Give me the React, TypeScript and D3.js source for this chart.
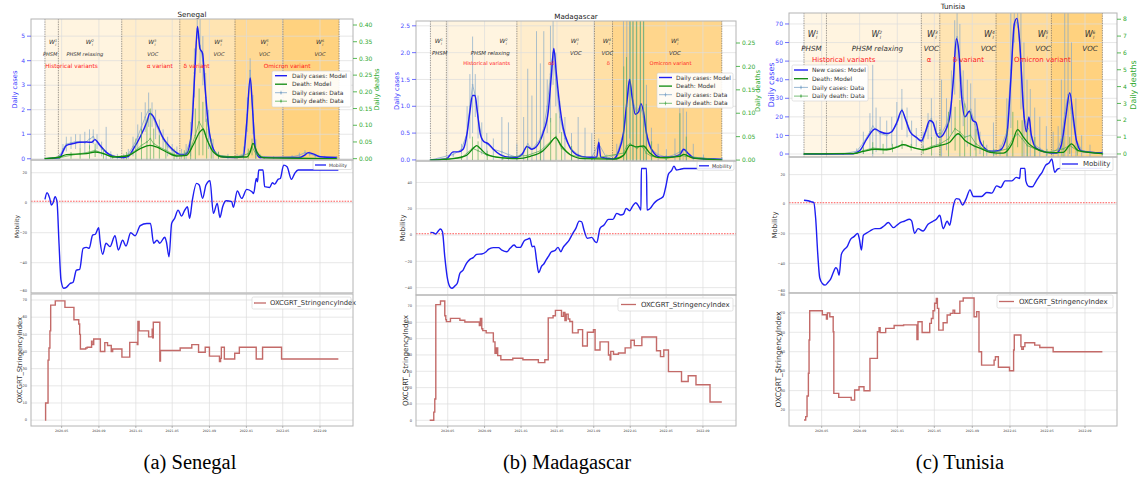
import React from "react";
import * as d3 from "d3";

type P = [number, number];
type E = [number, number, number];

// ---------------- shared ----------------
const dateTicks = ["2020-05", "2020-09", "2021-01", "2021-05", "2021-09", "2022-01", "2022-05", "2022-09"];
const mobilityReference = 1;

// ---------------- Senegal ----------------
const senCasesModel: P[] = [[2.19,0],[3.78,0.05],[4.14,0.3],[4.51,0.55],[5.23,0.62],[5.95,0.67],[6.68,0.68],[7.22,0.67],[7.58,0.78],[8.12,0.55],[8.85,0.25],[9.57,0.1],[10.66,0.05],[11.2,0.1],[11.74,0.4],[12.47,0.9],[13.19,1.5],[13.55,1.85],[13.91,1.75],[14.46,1.3],[15.0,0.85],[15.72,0.5],[16.45,0.25],[16.99,0.15],[17.53,0.2],[18.07,1.0],[18.44,3.5],[18.73,5.4],[18.98,4.5],[19.27,4.3],[19.52,3.0],[19.88,1.4],[20.43,0.4],[21.15,0.1],[22.6,0.05],[23.68,0.1],[24.04,1.5],[24.41,3.3],[24.66,2.0],[24.95,0.4],[25.49,0.05],[29.83,0.05],[30.38,0.15],[30.74,0.25],[31.28,0.2],[32.0,0.08],[33.81,0.05]];
const senDeathModel: P[] = [[2.19,0],[3.78,0.005],[4.51,0.012],[6.68,0.015],[7.58,0.02],[8.49,0.015],[9.57,0.005],[11.02,0.008],[12.47,0.03],[13.55,0.04],[14.28,0.035],[15.36,0.02],[16.45,0.008],[17.53,0.01],[18.26,0.04],[18.98,0.08],[19.34,0.088],[19.7,0.06],[20.43,0.02],[21.51,0.005],[24.04,0.005],[24.41,0.02],[24.7,0.046],[25.13,0.02],[25.85,0.003],[33.81,0]];
const senCasesData: E[] = [[2.19,0,0],[3.0,0.02,0.05],[3.78,0.1,0.2],[4.14,0.4,0.6],[4.5,0.6,0.9],[5.0,0.65,0.9],[5.5,0.7,1.0],[6.0,0.7,1.0],[6.5,0.65,1.1],[7.0,0.8,1.2],[7.4,0.9,1.2],[7.8,0.7,1.0],[8.3,0.4,0.7],[8.8,0.3,1.3],[9.3,0.15,0.3],[10.0,0.08,0.2],[10.7,0.08,0.2],[11.2,0.2,0.4],[11.7,0.5,0.9],[12.2,0.9,1.4],[12.6,1.3,1.9],[13.0,1.7,2.3],[13.4,2.0,2.7],[13.8,1.8,2.3],[14.2,1.4,2.0],[14.6,1.1,1.6],[15.0,0.8,1.2],[15.5,0.5,0.9],[16.0,0.35,0.6],[16.5,0.25,0.5],[17.0,0.2,0.4],[17.5,0.25,0.6],[18.0,0.8,1.5],[18.4,3.5,4.5],[18.7,5.3,5.7],[19.0,4.6,5.7],[19.3,4.0,5.0],[19.6,2.5,3.5],[19.9,1.2,2.0],[20.4,0.4,0.8],[21.0,0.15,0.3],[22.0,0.08,0.2],[23.0,0.08,0.2],[23.7,0.2,0.5],[24.1,1.8,2.5],[24.4,3.6,4.1],[24.7,1.8,2.6],[25.0,0.4,0.8],[25.5,0.1,0.2],[27.0,0.05,0.1],[29.0,0.08,0.15],[29.8,0.15,0.25],[30.4,0.25,0.35],[30.9,0.2,0.3],[31.5,0.12,0.2],[32.5,0.08,0.12],[33.81,0.06,0.1]];
const senDeathData: E[] = [[2.19,0,0],[3.78,0.003,0.006],[5.0,0.01,0.02],[6.0,0.015,0.03],[7.0,0.02,0.04],[7.6,0.025,0.045],[8.5,0.015,0.03],[9.5,0.006,0.012],[11.0,0.008,0.02],[12.0,0.025,0.06],[12.6,0.04,0.09],[13.2,0.05,0.12],[13.6,0.06,0.15],[14.0,0.045,0.09],[14.6,0.035,0.07],[15.3,0.025,0.05],[16.2,0.012,0.03],[17.3,0.01,0.025],[18.0,0.03,0.07],[18.5,0.07,0.15],[18.9,0.11,0.21],[19.3,0.09,0.17],[19.7,0.06,0.12],[20.2,0.03,0.06],[21.0,0.01,0.02],[23.0,0.004,0.008],[24.2,0.015,0.03],[24.6,0.035,0.06],[25.0,0.015,0.03],[26.0,0.003,0.005],[33.81,0,0]];
const senMobility: P[] = [[2.19,2.2],[2.41,6.7],[2.7,2.9],[2.88,-1.6],[3.06,0],[3.28,4],[3.49,0.7],[3.71,-27],[3.93,-51.6],[4.22,-57],[4.51,-56.4],[4.87,-54],[5.23,-53],[5.59,-45],[5.95,-44.4],[6.32,-30.4],[6.68,-29.8],[6.97,-30.4],[7.33,-21.6],[7.62,-21],[7.98,-16.7],[8.12,-25],[8.41,-34.4],[8.78,-27],[9.21,-29.3],[9.75,-22],[10.11,-31.6],[10.58,-25],[10.95,-28.9],[11.45,-20],[11.92,-22],[12.47,-15.3],[13.19,-13.8],[13.62,-13.8],[13.99,-27],[14.35,-25],[14.64,-27],[15.18,-23],[15.36,-26],[15.65,-36],[15.94,-13.8],[16.26,-10.4],[16.63,-4.9],[16.99,-8.9],[17.35,-4.9],[17.64,-2.7],[17.89,-10.4],[18.18,1.8],[18.62,12.9],[18.91,11.8],[19.27,2.9],[19.63,11.8],[20.06,14.7],[20.43,-7.1],[20.86,-0.4],[21.15,-9.8],[21.44,-2.7],[21.8,1.3],[22.42,0.7],[22.6,-3.1],[23.03,7.8],[23.5,2.9],[24.04,8.9],[24.59,7.3],[24.77,6.2],[25.06,16.2],[25.2,14],[25.35,21.8],[25.85,21.8],[26.04,10.7],[26.58,10.2],[26.87,13.3],[27.12,12.4],[27.48,15.6],[27.73,16.2],[28.1,25.1],[28.46,24],[28.93,15.6],[29.29,19.6],[29.66,21.8],[33.99,21.8]];
const senStringency: P[] = [[2.19,0],[2.26,10],[2.52,35],[2.62,42],[2.72,52],[2.8,67],[3.3,69.5],[4.35,65.7],[5.32,58.5],[5.85,56],[5.95,50],[6.03,41.5],[6.6,42],[6.75,42.5],[7.22,46],[7.28,44],[7.45,47.3],[8.16,40],[8.65,45.2],[8.95,43.5],[9.35,40],[9.5,41.5],[10.5,36.7],[11.35,45.3],[12.15,44],[12.22,57.5],[12.35,52],[13.4,48.5],[13.82,53],[13.88,48],[13.95,57],[14.65,34.5],[14.72,40.6],[16.85,42],[18.12,44],[18.84,39.6],[19.55,42.5],[20.0,37.3],[21.1,34.2],[21.22,36],[21.3,42.5],[21.62,35.6],[22.75,39],[23.25,42.5],[25.05,35.6],[25.8,42.5],[27.87,35.6],[33.99,35.6]];
const senWaves = [2.19, 3.64, 10.48, 16.81, 22.78, 28.02, 34.07];
const senWaveLabels: [number, number, string, string][] = [[3.06,2.75,"1","PHSM"],[7.04,6.5,"2","PHSM relaxing"],[13.84,13.9,"3","VOC"],[20.97,21.05,"4","VOC"],[26.04,26.04,"5","VOC"],[32.0,32.0,"6","VOC"]];
const senVariants: [number, string][] = [[5.05,"Historical variants"],[14.64,"α variant"],[18.62,"δ variant"],[28.46,"Omicron variant"]];

// ---------------- Madagascar ----------------
const mdgCasesModel: P[] = [[2.1,0],[3.85,0.02],[4.59,0.15],[5.14,0.15],[5.68,0.2],[6.12,0.5],[6.42,0.9],[6.71,1.2],[6.97,1.2],[7.22,0.9],[7.52,0.5],[7.88,0.35],[8.43,0.3],[8.98,0.2],[9.71,0.1],[10.81,0.05],[11.55,0.05],[12.1,0.1],[12.64,0.25],[13.19,0.2],[13.74,0.25],[14.47,0.5],[15.03,0.9],[15.39,1.6],[15.65,2.08],[15.94,1.6],[16.31,1.0],[16.67,0.6],[17.22,0.3],[18.14,0.1],[19.24,0.05],[20.34,0.05],[20.56,0.33],[20.78,0.05],[22.17,0.02],[22.72,0.15],[23.27,0.5],[23.71,1.2],[23.93,1.5],[24.18,1.2],[24.55,0.85],[24.92,0.9],[25.17,1.05],[25.47,0.9],[25.83,0.5],[26.38,0.2],[27.36,0.05],[28.39,0.05],[29.49,0.1],[29.94,0.2],[30.41,0.12],[31.13,0.03],[34.07,0.01]];
const mdgDeathModel: P[] = [[2.1,0],[4.59,0.003],[6.05,0.01],[6.78,0.025],[7.15,0.031],[7.52,0.025],[8.25,0.012],[9.71,0.005],[11.55,0.003],[13.01,0.008],[14.47,0.02],[15.21,0.035],[15.83,0.048],[16.49,0.03],[17.41,0.012],[18.87,0.003],[22.17,0.002],[23.27,0.01],[24.0,0.032],[24.73,0.028],[25.47,0.03],[26.2,0.015],[27.3,0.005],[29.49,0.008],[29.94,0.012],[30.96,0.004],[34.07,0]];
const mdgCasesData: E[] = [[2.1,0,0],[4.59,0.1,0.15],[5.5,0.2,0.3],[6.12,0.5,1.0],[6.42,1.0,1.6],[6.71,1.4,2.3],[7.0,1.2,1.6],[7.3,0.8,1.2],[7.7,0.4,0.7],[8.25,0.3,0.5],[8.98,0.2,0.4],[9.9,0.15,0.8],[10.63,0.1,0.7],[11.55,0.05,0.3],[12.28,0.15,0.8],[12.72,0.3,1.7],[13.19,0.2,1.2],[13.74,0.3,2.4],[14.18,0.4,1.8],[14.55,0.6,2.4],[14.92,1.0,1.5],[15.28,1.6,2.5],[15.57,2.0,2.6],[15.87,1.5,2.0],[16.31,0.8,1.1],[16.86,0.4,0.8],[17.59,0.2,0.5],[18.32,0.1,0.8],[19.06,0.05,0.6],[19.79,0.05,0.5],[20.56,0.3,0.4],[21.44,0.03,0.1],[22.53,0.1,0.3],[23.27,0.5,2.6],[23.63,1.0,2.6],[23.93,1.5,2.6],[24.29,1.1,2.6],[24.66,0.9,2.6],[25.1,1.0,2.6],[25.47,0.8,2.6],[25.83,0.5,1.4],[26.38,0.2,0.6],[27.11,0.1,0.3],[28.03,0.05,0.2],[28.95,0.1,0.4],[29.49,0.15,1.0],[29.86,0.2,1.1],[30.23,0.15,0.9],[30.96,0.05,0.3],[32.06,0.03,0.1],[34.07,0.02,0.05]];
const mdgDeathData: E[] = [[2.1,0,0],[5.5,0.005,0.01],[6.7,0.025,0.05],[7.3,0.02,0.04],[8.3,0.01,0.02],[10.0,0.005,0.01],[12.7,0.01,0.03],[14.2,0.02,0.05],[15.3,0.04,0.09],[15.9,0.05,0.1],[16.5,0.025,0.06],[17.6,0.01,0.03],[19.8,0.003,0.005],[23.3,0.015,0.2],[23.6,0.03,0.22],[24.0,0.035,0.3],[24.3,0.03,0.3],[24.7,0.025,0.3],[25.1,0.03,0.3],[25.5,0.025,0.3],[25.8,0.015,0.12],[26.4,0.008,0.04],[28.0,0.003,0.01],[29.5,0.01,0.1],[30.2,0.008,0.05],[34.07,0,0]];
const mdgMobility: P[] = [[2.1,2],[2.39,1.8],[2.68,0.8],[2.97,3.3],[3.19,4.6],[3.41,2.5],[3.67,-16.5],[3.93,-31.6],[4.22,-39.2],[4.44,-40.5],[4.77,-38.7],[5.03,-36.7],[5.32,-29.1],[5.68,-26.6],[6.05,-21.5],[6.42,-18.5],[6.78,-17.2],[7.15,-14.7],[7.7,-14.4],[8.18,-12.7],[8.43,-10.9],[8.98,-9.6],[9.53,-9.6],[9.9,-11.4],[10.45,-12.7],[10.81,-10.1],[11.25,-7.6],[11.55,-9.4],[11.91,-9.4],[12.35,-4.3],[12.64,-3.3],[12.94,-2.5],[13.23,-8.9],[13.49,-8.4],[13.74,-19],[14.0,-28.6],[14.29,-24],[14.55,-22],[14.84,-18.5],[15.03,-16.5],[15.39,-12.7],[15.76,-11.9],[16.12,-9.4],[16.42,-12.7],[16.67,-9.4],[16.97,-6.8],[17.33,-3.8],[17.7,0.8],[18.07,5.1],[18.43,10.6],[18.69,10.1],[18.95,3.8],[19.31,-2.5],[19.79,-1.8],[20.15,-5.1],[20.34,-5.8],[20.7,5.1],[21.14,7.6],[21.62,11.9],[22.1,11.9],[22.53,16.5],[22.97,15.2],[23.27,15.9],[23.56,20.3],[23.93,18.5],[24.26,22],[24.59,24.6],[24.95,21.5],[25.17,19],[25.22,50.6],[25.83,50.6],[25.9,19],[26.27,20.3],[26.64,24],[26.93,26],[27.37,27.8],[27.66,29.1],[27.96,36.7],[28.25,46.3],[28.58,48.9],[28.84,52.4],[29.13,49.4],[29.49,49.9],[29.94,50.6],[34.07,50.6]];
const mdgStringency: P[] = [[2.02,0],[2.46,5],[2.57,13],[2.68,70.8],[3.19,73],[3.67,64],[3.78,61.6],[3.85,60.4],[4.29,62.4],[5.32,61.2],[5.87,60.2],[7.44,58],[7.55,62.4],[7.7,56],[7.81,54.9],[8.18,53.5],[8.98,48],[9.16,41],[9.3,44.3],[9.45,39.6],[9.79,37.1],[11.11,38],[12.2,37.1],[13.96,35.3],[14.66,37.1],[15.03,62.7],[15.57,64],[15.83,67.3],[16.49,63.6],[16.7,66],[16.86,61],[17.0,65],[17.22,62],[17.4,60.5],[17.7,53.5],[18.32,55.5],[18.8,45.5],[19.31,53.9],[19.97,55.5],[20.15,43],[20.7,48],[21.62,40],[21.8,37],[21.87,42.2],[22.17,40.4],[22.72,41.2],[23.45,44.3],[24.07,49],[24.44,45.7],[25.28,51],[26.93,42.6],[27.37,39],[27.74,43],[28.25,29.8],[29.68,23.7],[30.41,27.3],[31.25,21.8],[32.79,11.2],[34.07,11.2]];
const mdgWaves = [2.1, 3.85, 11.55, 20.08, 22.06, 34.07];
const mdgWaveLabels: [number, number, string, string][] = [[3.01,3.1,"1","PHSM"],[10.08,8.62,"2","PHSM relaxing"],[17.96,18.07,"3","VOC"],[21.44,21.5,"4","VOC"],[28.95,28.95,"5","VOC"]];
const mdgVariants: [number, string][] = [[8.25,"Historical variants"],[15.39,"αδ"],[21.62,"δ"],[28.47,"Omicron variant"]];

// ---------------- Tunisia ----------------
const tunCasesModel: P[] = [[2.12,0],[7.34,0.2],[8.05,2],[8.76,8],[9.64,13.5],[10.18,12],[10.89,11],[11.42,12],[11.95,17],[12.48,23.5],[12.84,19],[13.37,12],[14.08,9],[14.61,7],[15.04,12],[15.5,18],[15.86,17],[16.21,11],[16.57,9],[17.1,12],[17.63,20],[17.99,38],[18.34,62],[18.59,55],[18.87,32],[19.23,20],[19.69,23],[20.05,18],[20.4,17],[20.83,7],[21.36,3],[21.89,1.5],[22.25,1.5],[22.96,2],[23.67,10],[24.09,40],[24.45,70],[24.73,73],[25.02,60],[25.44,25],[25.8,12],[26.08,20],[26.33,10],[26.86,3],[27.93,1],[28.99,0.5],[29.52,5],[29.99,20],[30.41,33],[30.77,20],[31.12,7],[31.65,1.5],[33.85,0.5]];
const tunDeathModel: P[] = [[2.12,0],[7.34,0.02],[8.4,0.15],[9.64,0.28],[10.89,0.25],[11.95,0.4],[12.66,0.55],[13.55,0.4],[14.79,0.25],[15.86,0.4],[16.57,0.5],[17.63,0.7],[18.52,1.2],[19.23,0.8],[20.12,0.5],[21.0,0.3],[21.89,0.1],[23.31,0.05],[24.2,0.6],[24.8,1.45],[25.44,1.0],[26.08,0.6],[26.86,0.3],[28.28,0.08],[29.7,0.1],[30.59,0.6],[31.3,0.2],[33.85,0.02]];
const tunCasesData: E[] = [[2.12,0,0],[6.27,0.1,0.3],[7.69,1.5,3],[8.4,6,12],[9.11,12,22],[9.4,15,48],[9.75,13,25],[10.18,11,20],[10.89,10,18],[11.42,12,20],[11.95,16,28],[12.48,24,35],[13.02,17,25],[13.55,11,18],[14.08,9,14],[14.79,7,12],[15.32,15,22],[15.68,19,30],[16.21,11,18],[16.75,11,40],[17.28,16,30],[17.81,28,45],[18.16,52,72],[18.41,63,76],[18.7,50,70],[19.05,30,45],[19.48,22,40],[19.83,24,38],[20.29,16,30],[20.83,6,12],[21.54,2,5],[22.25,1.5,17],[22.96,2,5],[23.67,12,30],[24.09,45,76],[24.45,68,76],[24.8,72,76],[25.16,50,76],[25.51,20,60],[25.87,15,40],[26.22,12,35],[26.68,5,25],[27.22,3,20],[27.93,1,15],[28.64,1,12],[29.17,3,15],[29.52,8,40],[29.88,22,76],[30.23,32,76],[30.59,22,60],[31.05,8,30],[31.65,2,10],[32.54,1,5],[33.85,0.5,2]];
const tunDeathData: E[] = [[2.12,0,0],[7.69,0.05,0.1],[8.4,0.2,0.4],[9.4,0.35,0.7],[10.5,0.3,0.6],[11.5,0.35,0.6],[12.5,0.55,0.8],[13.5,0.4,0.6],[14.8,0.25,0.5],[15.7,0.45,1.0],[16.6,0.6,1.5],[17.5,0.9,2.5],[18.2,1.5,2.8],[18.7,1.3,3.2],[19.2,1.0,3.0],[19.8,1.1,2.5],[20.4,0.6,1.5],[21.2,0.3,0.8],[22.3,0.1,0.3],[23.7,0.3,1.5],[24.3,0.9,2.5],[24.8,1.2,2.0],[25.3,0.9,2.0],[25.9,0.5,1.5],[26.7,0.3,1.0],[28.0,0.1,0.3],[29.7,0.3,1.0],[30.4,0.5,1.0],[31.2,0.2,0.5],[33.85,0.02,0.05]];
const tunMobility: P[] = [[2.12,2.7],[2.54,2.3],[2.9,1.6],[3.15,1.1],[3.36,-10.2],[3.57,-32.8],[3.79,-49.7],[4.07,-53.6],[4.36,-54.7],[4.67,-52.7],[4.92,-50.8],[5.21,-46.3],[5.49,-42.9],[5.67,-44.1],[5.85,-48.1],[6.09,-33.9],[6.34,-31],[6.7,-28.7],[7.05,-23.7],[7.41,-21.9],[7.8,-19.7],[7.98,-23.7],[8.19,-31],[8.4,-21],[8.69,-19.7],[9.11,-18.1],[9.64,-16.5],[10.11,-16.5],[10.6,-14.7],[11.06,-12.4],[11.6,-15.8],[11.95,-14.2],[12.31,-12.4],[12.73,-11.5],[13.3,-10.2],[13.55,-11.3],[13.9,-19.7],[14.26,-16.5],[14.79,-18.1],[15.32,-13.6],[15.86,-11.5],[16.21,-10.2],[16.57,-7.5],[16.92,-16.5],[17.35,-11.5],[17.63,-14.2],[17.81,-9],[18.06,0],[18.34,3.8],[18.63,3.4],[18.98,-0.5],[19.34,3.4],[19.76,9.7],[20.12,5.2],[20.47,5.2],[21.0,5.2],[21.54,7.9],[22.07,7.5],[22.6,12.4],[23.03,11.3],[23.49,15.8],[24.2,15.8],[24.66,18.1],[25.02,17.4],[25.12,24.2],[25.62,24.2],[25.73,15.8],[26.08,12],[26.44,11.8],[26.79,15.1],[27.15,18.8],[27.5,21.9],[27.86,26.4],[28.21,27.8],[28.5,30.5],[28.81,21.5],[29.1,23.7],[29.35,24.2],[33.85,24.2]];
const tunStringency: P[] = [[2.12,14.9],[2.3,16.6],[2.44,27.2],[2.58,38.9],[2.65,56],[2.72,71.1],[4.07,69],[4.5,66.8],[4.6,70],[4.85,68],[5.21,60.3],[5.28,28.6],[5.81,26.5],[7.12,25.1],[7.48,30.3],[7.94,32],[8.47,29.9],[9.11,46.6],[9.89,60.3],[10.07,62.3],[10.18,59.8],[10.78,62],[11.67,63.5],[12.66,63.8],[14.15,56.3],[14.26,65.4],[14.69,59.9],[15.5,64.6],[15.68,67.1],[15.86,71.1],[16.03,74.9],[16.21,77.4],[16.32,72.3],[16.46,61.1],[16.92,64.9],[17.35,68.9],[17.7,69.7],[17.99,71.4],[18.16,69.7],[18.7,76],[19.05,77.6],[20.19,68],[20.47,70.6],[20.72,50],[21.0,43.1],[22.32,45.7],[22.46,47.4],[22.78,42],[23.95,40.2],[24.38,50.9],[24.45,58.6],[25.16,52.6],[25.26,51.2],[25.44,52.6],[25.62,54.6],[26.68,53.4],[27.22,52.2],[28.64,50],[33.85,50]];
const tunWaves = [2.12, 4.5, 14.61, 16.57, 22.53, 28.46, 33.85];
const tunWaveLabels: [number, number, string, string][] = [[3.08,2.9,"1","PHSM"],[9.82,9.89,"2","PHSM relaxing"],[15.79,15.68,"3","VOC"],[21.82,21.71,"4","VOC"],[27.57,27.57,"5","VOC"],[32.54,32.54,"6","VOC"]];
const tunVariants: [number, string][] = [[6.34,"Historical variants"],[15.43,"α"],[19.58,"δ variant"],[27.5,"Omicron variant"]];

// ---------------- layout / style ----------------
const FONT = "'DejaVu Sans', sans-serif";
const C_CASES = "#1e1ef2";
const C_DEATH = "#0d8a0d";
const C_CDATA = "#7ea5c8";
const C_DDATA = "#55ad55";
const C_STR = "#c36a68";
const C_GRID = "#dcdcdc";
const C_SPINE = "#b4b4b4";

interface Leg { x: number; y: number; w: number; h: number; fs: number; row0: number; dy: number; hx0: number; hx1: number; tx: number; }
interface Country {
  id: string; title: string; caption: string; captionX: number;
  x0: number; x1: number; tDomain: [number, number];
  top: [number, number]; mid: [number, number]; bot: [number, number];
  cDom: [number, number]; dDom: [number, number];
  cTicks: number[]; cFmt: string; dTicks: number[]; dFmt: string;
  mDom: [number, number]; mTicks: number[]; sDom: [number, number]; sTicks: number[];
  casesModel: P[]; deathModel: P[]; casesData: E[]; deathData: E[]; mobility: P[]; stringency: P[];
  waves: number[]; waveAlpha: number[]; waveLabels: [number, number, string, string][]; variants: [number, string][];
  rows: [number, number, number]; fsW: number; fsPh: number; fsRed: number;
  legendLabels: string[]; legTop: Leg; legMob: Leg; legStr: Leg;
  topTickFs: number; labX: [number, number, number, number]; labFs: [number, number, number];
  titleY: number;
}

const countries: Country[] = [
  {
    id: "sen", title: "Senegal", caption: "(a) Senegal", captionX: 190,
    x0: 31, x1: 353, tDomain: [0.64, 35.58],
    top: [19, 160], mid: [160, 293], bot: [294, 426],
    cDom: [-0.05, 5.7], dDom: [-0.004, 0.418],
    cTicks: [0, 1, 2, 3, 4, 5], cFmt: "d", dTicks: [0, 0.05, 0.1, 0.15, 0.2, 0.25, 0.3, 0.35, 0.4], dFmt: ".2f",
    mDom: [-60.2, 28.5], mTicks: [-60, -40, -20, 0, 20], sDom: [-3.4, 73.5], sTicks: [0, 10, 20, 30, 40, 50, 60, 70],
    casesModel: senCasesModel, deathModel: senDeathModel, casesData: senCasesData, deathData: senDeathData,
    mobility: senMobility, stringency: senStringency,
    waves: senWaves, waveAlpha: [0.1, 0.12, 0.2, 0.3, 0.42, 0.5], waveLabels: senWaveLabels, variants: senVariants,
    rows: [44, 56, 68], fsW: 6, fsPh: 5.1, fsRed: 5.8,
    legendLabels: ["Daily cases: Model", "Death: Model", "Daily cases: Data", "Daily death: Data"],
    legTop: { x: 272, y: 71, w: 79, h: 36, fs: 5.9, row0: 4.7, dy: 8.5, hx0: 275, hx1: 287, tx: 292 },
    legMob: { x: 313, y: 160.5, w: 39, h: 9, fs: 4.6, row0: 4.5, dy: 0, hx0: 315, hx1: 326, tx: 329 },
    legStr: { x: 252, y: 297, w: 99, h: 12, fs: 6.8, row0: 6, dy: 0, hx0: 254, hx1: 266, tx: 270 },
    topTickFs: 6, labX: [15, 377, 17, 20], labFs: [6.7, 5.9, 6.8], titleY: 17,
  },
  {
    id: "mdg", title: "Madagascar", caption: "(b) Madagascar", captionX: 567,
    x0: 416, x1: 736, tDomain: [0.48, 35.63],
    top: [21, 161], mid: [161, 295], bot: [295, 426],
    cDom: [-0.02, 2.59], dDom: [-0.002, 0.297],
    cTicks: [0, 0.5, 1, 1.5, 2, 2.5], cFmt: ".1f", dTicks: [0, 0.05, 0.1, 0.15, 0.2, 0.25], dFmt: ".2f",
    mDom: [-45.6, 56.3], mTicks: [-40, -20, 0, 20, 40], sDom: [-3.5, 76.7], sTicks: [0, 10, 20, 30, 40, 50, 60, 70],
    casesModel: mdgCasesModel, deathModel: mdgDeathModel, casesData: mdgCasesData, deathData: mdgDeathData,
    mobility: mdgMobility, stringency: mdgStringency,
    waves: mdgWaves, waveAlpha: [0.1, 0.12, 0.2, 0.35, 0.45], waveLabels: mdgWaveLabels, variants: mdgVariants,
    rows: [43, 55, 65], fsW: 6, fsPh: 5.4, fsRed: 5.2,
    legendLabels: ["Daily cases: Model", "Death: Model", "Daily cases: Data", "Daily death: Data"],
    legTop: { x: 657, y: 73, w: 76, h: 35, fs: 5.9, row0: 4.5, dy: 8.6, hx0: 659, hx1: 672, tx: 676 },
    legMob: { x: 697, y: 161.3, w: 37, h: 9, fs: 5, row0: 4.5, dy: 0, hx0: 699, hx1: 709, tx: 712 },
    legStr: { x: 618, y: 298, w: 115, h: 13, fs: 7, row0: 6.5, dy: 0, hx0: 621, hx1: 636, tx: 641 },
    topTickFs: 6, labX: [397, 758, 403, 405], labFs: [6.7, 6.9, 7.2], titleY: 19,
  },
  {
    id: "tun", title: "Tunisia", caption: "(c) Tunisia", captionX: 960,
    x0: 789, x1: 1117, tDomain: [0.49, 35.41],
    top: [13, 157], mid: [157, 293], bot: [293, 426],
    cDom: [-1.6, 75.9], dDom: [-0.18, 8.37],
    cTicks: [0, 10, 20, 30, 40, 50, 60, 70], cFmt: "d", dTicks: [0, 1, 2, 3, 4, 5, 6, 7, 8], dFmt: "d",
    mDom: [-60, 31.9], mTicks: [-60, -40, -20, 0, 20], sDom: [11.8, 80.2], sTicks: [20, 30, 40, 50, 60, 70, 80],
    casesModel: tunCasesModel, deathModel: tunDeathModel, casesData: tunCasesData, deathData: tunDeathData,
    mobility: tunMobility, stringency: tunStringency,
    waves: tunWaves, waveAlpha: [0.1, 0.12, 0.2, 0.3, 0.4, 0.5], waveLabels: tunWaveLabels, variants: tunVariants,
    rows: [37, 50.5, 61.5], fsW: 8, fsPh: 7.1, fsRed: 7,
    legendLabels: ["New cases: Model", "Death: Model", "Daily cases: Data", "Daily death: Data"],
    legTop: { x: 792, y: 65, w: 76, h: 36, fs: 6, row0: 5, dy: 8.7, hx0: 794, hx1: 808, tx: 812 },
    legMob: { x: 1060, y: 157.5, w: 53, h: 13, fs: 7, row0: 6.5, dy: 0, hx0: 1062, hx1: 1078, tx: 1083 },
    legStr: { x: 997, y: 295, w: 116, h: 13, fs: 7, row0: 6.5, dy: 0, hx0: 999, hx1: 1014, tx: 1019 },
    topTickFs: 6, labX: [771, 1133, 775, 778], labFs: [7.9, 6.9, 7.6], titleY: 9,
  },
];

const monthToDate = (t: number) => {
  const m = Math.floor(t);
  const a = new Date(2020, m, 1).getTime();
  const b = new Date(2020, m + 1, 1).getTime();
  return new Date(a + (t - m) * (b - a));
};
const parseTick = d3.timeParse("%Y-%m");
const minusFmt = (v: number) => (v < 0 ? "\u2212" + Math.abs(v) : String(v));

interface LegItem { label: string; color: string; sw: number; data?: boolean; }
function LegendBox({ g, items }: { g: Leg; items: LegItem[] }) {
  const mx = (g.hx0 + g.hx1) / 2;
  return (
    <g>
      <rect x={g.x} y={g.y} width={g.w} height={g.h} rx={1.5} fill="#fff" fillOpacity={0.9} stroke="#d0d0d0" strokeWidth={0.6} />
      {items.map((it, i) => {
        const cy = g.y + g.row0 + i * g.dy;
        return (
          <g key={i}>
            <line x1={g.hx0} x2={g.hx1} y1={cy} y2={cy} stroke={it.color} strokeWidth={it.sw} />
            {it.data && <line x1={mx} x2={mx} y1={cy - 2} y2={cy + 2} stroke={it.color} strokeWidth={0.6} />}
            {it.data && <circle cx={mx} cy={cy} r={0.9} fill={it.color} />}
            <text x={g.tx} y={cy} dy="0.35em" fontSize={g.fs} fill="#333">{it.label}</text>
          </g>
        );
      })}
    </g>
  );
}

function CountryFigure({ c }: { c: Country }) {
  const x = d3.scaleTime().domain([monthToDate(c.tDomain[0]), monthToDate(c.tDomain[1])]).range([c.x0, c.x1]);
  const xt = (t: number) => x(monthToDate(t));
  const yC = d3.scaleLinear().domain(c.cDom).range([c.top[1], c.top[0]]);
  const yD = d3.scaleLinear().domain(c.dDom).range([c.top[1], c.top[0]]);
  const yM = d3.scaleLinear().domain(c.mDom).range([c.mid[1], c.mid[0]]);
  const yS = d3.scaleLinear().domain(c.sDom).range([c.bot[1], c.bot[0]]);
  const ticks = dateTicks.map((s) => parseTick(s) as Date);
  const smooth = (ys: d3.ScaleLinear<number, number>) =>
    d3.line<P>().x((d) => xt(d[0])).y((d) => ys(d[1])).curve(d3.curveMonotoneX);
  const dataLine = (ys: d3.ScaleLinear<number, number>) => d3.line<E>().x((d) => xt(d[0])).y((d) => ys(d[1]));
  const stepLine = d3.line<P>().x((d) => xt(d[0])).y((d) => yS(d[1])).curve(d3.curveStepAfter);
  const cFmt = d3.format(c.cFmt);
  const dFmt = d3.format(c.dFmt);
  const W = c.x1 - c.x0;
  const clipTop = `clip-top-${c.id}`;
  const clipMid = `clip-mid-${c.id}`;
  const clipBot = `clip-bot-${c.id}`;

  const errorBars = (arr: E[], ys: d3.ScaleLinear<number, number>, color: string) =>
    arr.map((d, i) => {
      const lo = Math.max(ys.domain()[0], 2 * d[1] - d[2]);
      return <line key={i} x1={xt(d[0])} x2={xt(d[0])} y1={ys(lo)} y2={ys(d[2])} stroke={color} strokeWidth={0.75} />;
    });
  const markers = (arr: E[], ys: d3.ScaleLinear<number, number>, color: string) =>
    arr.map((d, i) => <circle key={i} cx={xt(d[0])} cy={ys(d[1])} r={0.85} fill={color} />);

  const vGrid = (y0: number, y1: number) =>
    ticks.map((t, i) => <line key={i} x1={x(t)} x2={x(t)} y1={y0} y2={y1} stroke={C_GRID} strokeWidth={0.7} />);

  const wLabel = (tx: number, y: number, sup: string, fs: number, key: number) => (
    <text key={key} x={xt(tx)} y={y} fontSize={fs} fill="#333" fontStyle="italic" textAnchor="middle">
      W<tspan fontSize={fs * 0.55} dy={-fs * 0.35}>{sup}</tspan>
      <tspan fontSize={fs * 0.55} dx={-fs * 0.3} dy={fs * 0.65}>l</tspan>
    </text>
  );
  // keep bottom/top tick labels of stacked panels from colliding at the shared border
  const edgeNudge = (y: number, lo: number, hi: number) => (y > hi - 2 ? -1.8 : y < lo + 2 ? 1.8 : 0);

  return (
    <g>
      <defs>
        <clipPath id={clipTop}><rect x={c.x0} y={c.top[0]} width={W} height={c.top[1] - c.top[0]} /></clipPath>
        <clipPath id={clipMid}><rect x={c.x0} y={c.mid[0]} width={W} height={c.mid[1] - c.mid[0]} /></clipPath>
        <clipPath id={clipBot}><rect x={c.x0} y={c.bot[0]} width={W} height={c.bot[1] - c.bot[0]} /></clipPath>
      </defs>

      {/* ---------- top panel ---------- */}
      <g clipPath={`url(#${clipTop})`}>
        {c.waves.slice(0, -1).map((t, i) => (
          <rect key={i} x={xt(t)} y={c.top[0]} width={xt(c.waves[i + 1]) - xt(t)} height={c.top[1] - c.top[0]}
            fill="#ffa500" fillOpacity={c.waveAlpha[i]} />
        ))}
        {vGrid(c.top[0], c.top[1])}
        {c.cTicks.map((v, i) => <line key={"hc" + i} x1={c.x0} x2={c.x1} y1={yC(v)} y2={yC(v)} stroke={C_GRID} strokeWidth={0.7} />)}
        {c.waves.map((t, i) => (
          <line key={"wb" + i} x1={xt(t)} x2={xt(t)} y1={c.top[0]} y2={c.top[1]} stroke="#333" strokeWidth={0.6} strokeDasharray="0.8,0.9" />
        ))}
        <g opacity={0.85}>
          {errorBars(c.casesData, yC, C_CDATA)}
          <path d={dataLine(yC)(c.casesData) || ""} fill="none" stroke={C_CDATA} strokeWidth={0.85} />
          {markers(c.casesData, yC, C_CDATA)}
        </g>
        <path d={smooth(yC)(c.casesModel) || ""} fill="none" stroke={C_CASES} strokeWidth={1.45} />
        <g opacity={0.85}>
          {errorBars(c.deathData, yD, C_DDATA)}
          <path d={dataLine(yD)(c.deathData) || ""} fill="none" stroke={C_DDATA} strokeWidth={0.85} />
          {markers(c.deathData, yD, C_DDATA)}
        </g>
        <path d={smooth(yD)(c.deathModel) || ""} fill="none" stroke={C_DEATH} strokeWidth={1.3} />
      </g>
      {c.waveLabels.map((w, i) => wLabel(w[0], c.rows[0], w[2], c.fsW, i))}
      {c.waveLabels.map((w, i) => (
        <text key={"ph" + i} x={xt(w[1])} y={c.rows[1]} fontSize={c.fsPh} fill="#333" fontStyle="italic" textAnchor="middle">{w[3]}</text>
      ))}
      {c.variants.map((v, i) => (
        <text key={"va" + i} x={xt(v[0])} y={c.rows[2]} fontSize={c.fsRed} fill="#ff1a1a" textAnchor="middle">{v[1]}</text>
      ))}
      <LegendBox g={c.legTop} items={[
        { label: c.legendLabels[0], color: C_CASES, sw: 1.4 },
        { label: c.legendLabels[1], color: C_DEATH, sw: 1.3 },
        { label: c.legendLabels[2], color: C_CDATA, sw: 0.8, data: true },
        { label: c.legendLabels[3], color: C_DDATA, sw: 0.8, data: true },
      ]} />
      <rect x={c.x0} y={c.top[0]} width={W} height={c.top[1] - c.top[0]} fill="none" stroke={C_SPINE} strokeWidth={1} />
      {c.cTicks.map((v, i) => (
        <g key={"ct" + i}>
          <line x1={c.x0 - 4} x2={c.x0} y1={yC(v)} y2={yC(v)} stroke="#4a4aff" strokeWidth={0.8} />
          <text x={c.x0 - 6} y={yC(v)} dy="0.35em" fontSize={c.topTickFs} fill="#4a4aff" textAnchor="end">{cFmt(v)}</text>
        </g>
      ))}
      {c.dTicks.map((v, i) => (
        <g key={"dt" + i}>
          <line x1={c.x1} x2={c.x1 + 4} y1={yD(v)} y2={yD(v)} stroke="#2ea82e" strokeWidth={0.8} />
          <text x={c.x1 + 6} y={yD(v)} dy="0.35em" fontSize={c.topTickFs} fill="#2ea82e">{dFmt(v)}</text>
        </g>
      ))}
      <text x={(c.x0 + c.x1) / 2} y={c.titleY} fontSize={7.2} fill="#222" textAnchor="middle">{c.title}</text>
      <text transform={`translate(${c.labX[0]},${(c.top[0] + c.top[1]) / 2}) rotate(-90)`} fontSize={c.labFs[0]} fill="#3b3bff" textAnchor="middle" dy="0.35em">Daily cases</text>
      <text transform={`translate(${c.labX[1]},${(c.top[0] + c.top[1]) / 2}) rotate(-90)`} fontSize={c.labFs[0]} fill="#2ea82e" textAnchor="middle" dy="0.35em">Daily deaths</text>

      {/* ---------- middle panel (mobility) ---------- */}
      <g clipPath={`url(#${clipMid})`}>
        {vGrid(c.mid[0], c.mid[1])}
        {c.mTicks.map((v, i) => <line key={i} x1={c.x0} x2={c.x1} y1={yM(v)} y2={yM(v)} stroke={C_GRID} strokeWidth={0.7} />)}
        <line x1={c.x0} x2={c.x1} y1={yM(mobilityReference)} y2={yM(mobilityReference)} stroke="#ff3030" strokeWidth={0.8} strokeDasharray="1.6,1.2" />
        <path d={smooth(yM)(c.mobility) || ""} fill="none" stroke={C_CASES} strokeWidth={1.4} />
      </g>
      <LegendBox g={c.legMob} items={[{ label: "Mobility", color: C_CASES, sw: 1.3 }]} />
      <rect x={c.x0} y={c.mid[0]} width={W} height={c.mid[1] - c.mid[0]} fill="none" stroke={C_SPINE} strokeWidth={1} />
      {c.mTicks.map((v, i) => (
        <text key={i} x={c.x0 - 4} y={yM(v) + edgeNudge(yM(v), c.mid[0], c.mid[1])} dy="0.35em" fontSize={3.6} fill="#444" textAnchor="end">{minusFmt(v)}</text>
      ))}
      <text transform={`translate(${c.labX[2]},${(c.mid[0] + c.mid[1]) / 2}) rotate(-90)`} fontSize={c.labFs[1]} fill="#333" textAnchor="middle" dy="0.35em">Mobility</text>

      {/* ---------- bottom panel (stringency) ---------- */}
      <g clipPath={`url(#${clipBot})`}>
        {vGrid(c.bot[0], c.bot[1])}
        {c.sTicks.map((v, i) => <line key={i} x1={c.x0} x2={c.x1} y1={yS(v)} y2={yS(v)} stroke={C_GRID} strokeWidth={0.7} />)}
        <path d={stepLine(c.stringency) || ""} fill="none" stroke={C_STR} strokeWidth={1.4} />
      </g>
      <LegendBox g={c.legStr} items={[{ label: "OXCGRT_StringencyIndex", color: C_STR, sw: 1.3 }]} />
      <rect x={c.x0} y={c.bot[0]} width={W} height={c.bot[1] - c.bot[0]} fill="none" stroke={C_SPINE} strokeWidth={1} />
      {c.sTicks.map((v, i) => (
        <text key={i} x={c.x0 - 4} y={yS(v) + edgeNudge(yS(v), c.bot[0], c.bot[1])} dy="0.35em" fontSize={3.6} fill="#444" textAnchor="end">{v}</text>
      ))}
      {ticks.map((t, i) => (
        <g key={i}>
          <line x1={x(t)} x2={x(t)} y1={c.bot[1]} y2={c.bot[1] + 2} stroke="#888" strokeWidth={0.6} />
          <text x={x(t)} y={c.bot[1] + 6} fontSize={3.2} fill="#444" textAnchor="middle">{dateTicks[i]}</text>
        </g>
      ))}
      <text transform={`translate(${c.labX[3]},${(c.bot[0] + c.bot[1]) / 2}) rotate(-90)`} fontSize={c.labFs[2]} fill="#333" textAnchor="middle" dy="0.35em">OXCGRT_StringencyIndex</text>

      {/* caption */}
      <text x={c.captionX} y={469} fontSize={20.5} fontFamily="'Liberation Serif', 'Times New Roman', serif" fill="#000" textAnchor="middle">{c.caption}</text>
    </g>
  );
}

export default function App() {
  return (
    <svg width={1143} height={477} style={{ position: "absolute", left: 0, top: 0, display: "block" }} fontFamily={FONT}>
      <rect width={1143} height={477} fill="#fff" />
      {countries.map((c) => <CountryFigure key={c.id} c={c} />)}
    </svg>
  );
}
